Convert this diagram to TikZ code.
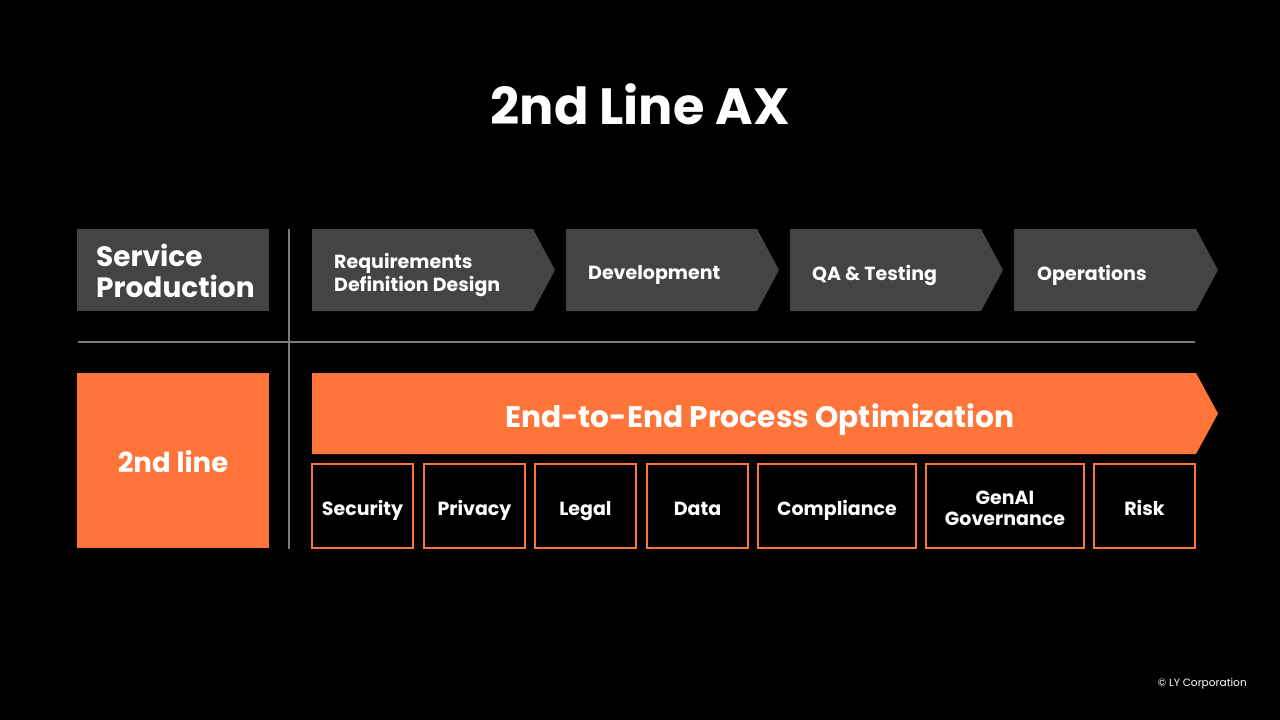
\documentclass[tikz,border=0pt]{standalone}
\usepackage{fontspec}
\setmainfont{Poppins}
\definecolor{boxgray}{HTML}{444444}
\definecolor{orng}{HTML}{FF7539}
\definecolor{linegray}{HTML}{7A7A7A}
\tikzset{
  titletext/.style={text=white, font=\fontsize{51}{56}\selectfont\bfseries},
  headtext/.style={text=white, font=\fontsize{28}{31}\selectfont\bfseries, align=left},
  chevtext/.style={text=white, font=\fontsize{19}{23}\selectfont\bfseries, align=left, anchor=west, inner sep=0pt},
  bigtext/.style={text=white, font=\fontsize{29.7}{33}\selectfont\bfseries},
  smallbox/.style={draw=orng, line width=1.5pt, fill=black, minimum height=84pt, inner sep=0pt},
  boxlabel/.style={text=white, inner sep=0pt, align=center, font=\fontsize{19}{21}\selectfont\bfseries},
  chev/.style={fill=boxgray},
  sepline/.style={draw=linegray, line width=1.5pt},
}
\begin{document}
\begin{tikzpicture}[x=1pt,y=-1pt]
\fill[black] (0,0) rectangle (1280,720);
\useasboundingbox (0,0) rectangle (1280,720);

\node[titletext] (title) at (640,104) {2nd Line AX};

% separators
\coordinate (vtop) at (289,229);
\coordinate (vbot) at (289,549);
\coordinate (hl) at (78,342);
\coordinate (hr) at (1195,342);
\draw[sepline] (vtop) -- (vbot);
\draw[sepline] (hl) -- (hr);

% Service production
\node[fill=boxgray, minimum width=192pt, minimum height=82pt, inner sep=0pt] (spbox) at (173,270) {};
\node[headtext, anchor=west, inner sep=0pt] (sp) at (96,271) {Service\\Production};

% chevrons
\fill[chev] (312,229) -- (533,229) -- (555,270) -- (533,311) -- (312,311) -- cycle;
\fill[chev] (566,229) -- (757,229) -- (779,270) -- (757,311) -- (566,311) -- cycle;
\fill[chev] (790,229) -- (981,229) -- (1003,270) -- (981,311) -- (790,311) -- cycle;
\fill[chev] (1014,229) -- (1196,229) -- (1218,270) -- (1196,311) -- (1014,311) -- cycle;
\node[chevtext] (req) at (334,275) {Requirements\\Definition Design};
\node[chevtext] (dev) at (588,275) {Development};
\node[chevtext] (qa) at (812,275) {QA \& Testing};
\node[chevtext] (ops) at (1037,275) {Operations};

% 2nd line
\node[fill=orng, minimum width=192pt, minimum height=175pt, inner sep=0pt] (secbox) at (173,460.5) {};
\node[bigtext, font=\fontsize{27.5}{30}\selectfont\bfseries] (sec) at (173,462) {2nd line};

% orange arrow
\fill[orng] (312,373) -- (1196,373) -- (1218,413.5) -- (1196,454) -- (312,454) -- cycle;
\node[bigtext] (e2e) at (760,420) {End-to-End Process Optimization};

% small boxes
\node[smallbox, minimum width=101pt] (security) at (362.5,506) {};
\node[smallbox, minimum width=101pt] (privacy) at (474.5,506) {};
\node[smallbox, minimum width=101pt] (legal) at (585.5,506) {};
\node[smallbox, minimum width=101pt] (data) at (697.5,506) {};
\node[smallbox, minimum width=158pt] (compliance) at (837,506) {};
\node[smallbox, minimum width=158pt] (genai) at (1005,506) {};
\node[smallbox, minimum width=101pt] (risk) at (1144.5,506) {};
\node[boxlabel, anchor=base] (securityl) at ([yshift=-9pt]security.center) {Security};
\node[boxlabel, anchor=base] (privacyl) at ([yshift=-9pt]privacy.center) {Privacy};
\node[boxlabel, anchor=base] (legall) at ([yshift=-9pt]legal.center) {Legal};
\node[boxlabel, anchor=base] (datal) at ([yshift=-9pt]data.center) {Data};
\node[boxlabel, anchor=base] (compliancel) at ([yshift=-9pt]compliance.center) {Compliance};
\node[boxlabel] (genail) at ([yshift=-2pt]genai.center) {GenAI\\Governance};
\node[boxlabel, anchor=base] (riskl) at ([yshift=-9pt]risk.center) {Risk};

\node[text=white, font=\fontsize{10.6}{12}\selectfont, anchor=east, inner sep=0pt] (copy) at (1247,684) {© LY Corporation};
\end{tikzpicture}
\end{document}
